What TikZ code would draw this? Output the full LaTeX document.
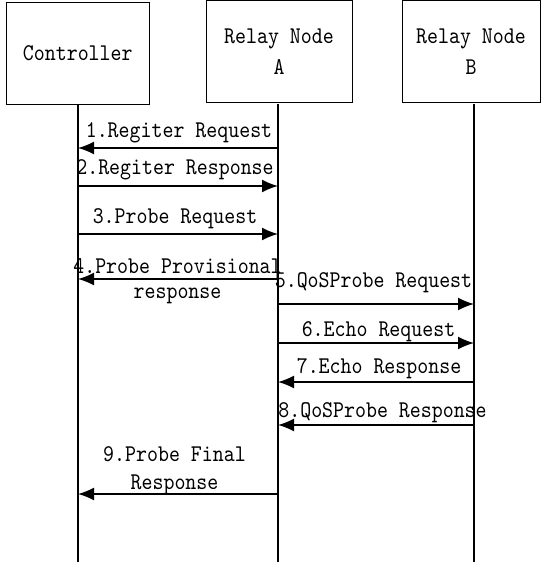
\documentclass[tikz,border=0pt]{standalone}
\usepackage{fontspec}
\setmainfont{lmmono10-regular.otf}[FakeStretch=0.87]
\usetikzlibrary{arrows.meta}
\newcommand\lblfont{\fontsize{24}{31}\selectfont}
\begin{document}
\begin{tikzpicture}[x=1pt,y=-1pt,
  box/.style={draw,line width=0.9pt,inner sep=0pt,font=\lblfont,align=center},
  life/.style={line width=1.6pt},
  msg/.style={line width=1.6pt,-{Latex[length=16pt,width=13pt]}},
  lbl/.style={font=\lblfont,inner sep=0pt,anchor=base,align=center}]
\useasboundingbox (0,0) rectangle (541,564);
% boxes
\node[box,minimum width=142.5pt,minimum height=101.5pt] (ctrl) at (77.75,53.25) {Controller};
\node[box,minimum width=146pt,minimum height=101.5pt] (ra) at (279,51.5) {Relay Node\\A};
\node[box,minimum width=138pt,minimum height=101.5pt] (rb) at (471,51.5) {Relay Node\\B};
% lifelines
\coordinate (cT) at (78,104); \coordinate (cB) at (78,562);
\coordinate (aT) at (278,104); \coordinate (aB) at (278,562);
\coordinate (bT) at (474,104); \coordinate (bB) at (474,562);
\draw[life] (cT) -- (cB);
\draw[life] (aT) -- (aB);
\draw[life] (bT) -- (bB);
% messages
\draw[msg] (aT |- 0,148) -- (cT |- 0,148);
\draw[msg] (cT |- 0,186) -- (aT |- 0,186);
\draw[msg] (cT |- 0,234) -- (aT |- 0,234);
\draw[msg] (aT |- 0,279) -- (cT |- 0,279);
\draw[msg] (aT |- 0,304) -- (bT |- 0,304);
\draw[msg] (aT |- 0,343) -- (bT |- 0,343);
\draw[msg] (bT |- 0,382) -- (aT |- 0,382);
\draw[msg] (bT |- 0,425) -- (aT |- 0,425);
\draw[msg] (aT |- 0,494) -- (cT |- 0,494);
% labels
\node[lbl] (l1) at (179,138) {1.Regiter Request};
\node[lbl] (l2) at (175,175) {2.Regiter Response};
\node[lbl] (l3) at (175,223) {3.Probe Request};
\node[lbl,font=\fontsize{24}{25}\selectfont] (l4) at (177.5,298) {4.Probe Provisional\\response};
\node[lbl] (l5) at (373.5,287) {5.QoSProbe Request};
\node[lbl] (l6) at (378.5,336) {6.Echo Request};
\node[lbl] (l7) at (379,373) {7.Echo Response};
\node[lbl] (l8) at (382.5,417) {8.QoSProbe Response};
\node[lbl,font=\fontsize{24}{28}\selectfont] (l9) at (174.5,489) {9.Probe Final\\Response};
\end{tikzpicture}
\end{document}
